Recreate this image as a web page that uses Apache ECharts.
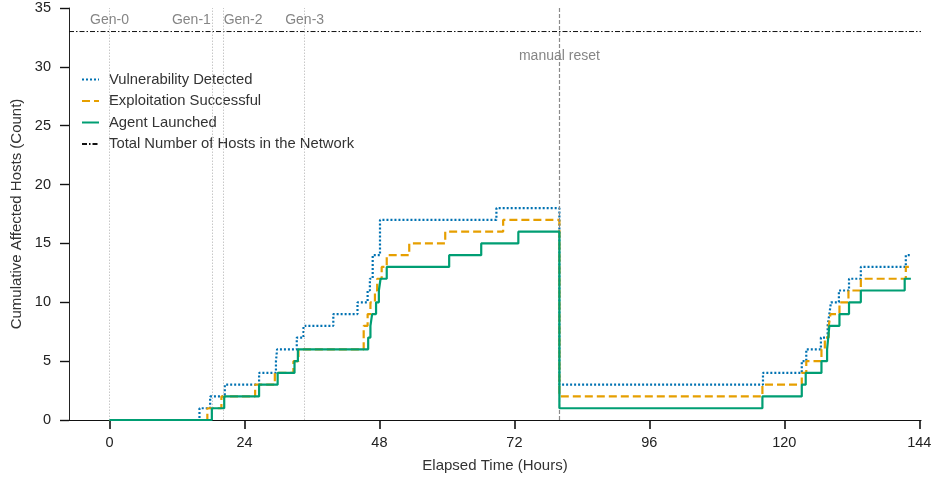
<!DOCTYPE html>
<html>
<head>
<meta charset="utf-8">
<script src="https://cdn.jsdelivr.net/npm/echarts@6/dist/echarts.min.js"></script>
<style>
  html, body { margin: 0; padding: 0; background: #fff; }
  #main { width: 935px; height: 477px; }
</style>
</head>
<body>
<div id="main"></div>
<script>
// 时间(小时) / 累计主机数
var vulnT = [0, 16.0, 17.9, 20.5, 26.6, 29.6, 29.8, 33.3, 34.5, 39.8, 44.1, 45.9, 46.3, 46.8, 48.1, 68.8, 80,
    116.2, 123.1, 123.9, 126.5, 127.7, 128.0, 128.3, 129.7, 131.5, 133.6, 141.6, 142.4];
var vulnV = [0, 1, 2, 3, 4, 5, 6, 7, 8, 9, 10, 11, 12, 14, 17, 18, 3,
    4, 5, 6, 7, 8, 9, 10, 11, 12, 13, 14, 14];

var exploitT = [0, 17.4, 19.9, 25.9, 29.4, 32.7, 33.6, 45.2, 45.9, 46.4, 47.2, 47.6, 48.4, 49.3, 53.3, 59.7, 70.0, 80,
    116.1, 123.1, 123.9, 126.6, 127.2, 127.9, 128.2, 129.8, 131.4, 133.6, 141.6, 142.4];
var exploitV = [0, 1, 2, 3, 4, 5, 6, 8, 9, 10, 11, 12, 13, 14, 15, 16, 17, 2,
    3, 4, 5, 6, 7, 8, 9, 10, 11, 12, 13, 13];

var agentT = [0, 18.2, 20.4, 26.6, 29.9, 32.9, 33.5, 46.0, 46.4, 46.7, 47.4, 47.9, 48.2, 49.3, 60.4, 66.1, 72.7, 80,
    116.1, 123.1, 123.8, 126.6, 127.6, 127.8, 128.0, 129.8, 131.5, 133.6, 141.4, 142.5];
var agentV = [0, 1, 2, 3, 4, 5, 6, 7, 8, 9, 10, 11, 12, 13, 14, 15, 16, 1,
    2, 3, 4, 5, 6, 7, 8, 9, 10, 11, 12, 12];

var totalHosts = 33;
var genTimes = [0, 18.2, 20.3, 34.7];
var genNames = ['Gen-0', 'Gen-1', 'Gen-2', 'Gen-3'];
var resetTime = 80;
var resetName = 'manual reset';
var xTicks = [0, 24, 48, 72, 96, 120, 144];
var xMin = -7.2, xMax = 144.3;

var FONT = "'Liberation Sans', Arial, sans-serif";

function pairs(ts, vs) {
    var out = [];
    for (var i = 0; i < ts.length; i++) {
        out.push([ts[i], vs[i]]);
    }
    return out;
}

var genAlign = ['center', 'right', 'left', 'center'];
var genOffset = [0, -1, 0, 0];
var genLabels = genTimes.map(function (t, i) {
    return {
        value: [t, 34.0],
        label: { align: genAlign[i], offset: [genOffset[i], 0], formatter: genNames[i] }
    };
});

var vLines = genTimes.map(function (t) {
    return { xAxis: t, lineStyle: { color: '#c8c8c8', type: [1.5, 1.5], width: 1 } };
});
vLines.push({ xAxis: resetTime, lineStyle: { color: '#8a8a8a', type: [4, 2], width: 1.2 } });

var myChart = echarts.init(document.getElementById('main'));
myChart.setOption({
    backgroundColor: '#fff',
    animation: false,
    textStyle: { fontFamily: FONT },
    grid: { left: 69, right: 14, top: 8, bottom: 57, outerBoundsMode: 'none', containLabel: false },
    legend: {
        data: ['Vulnerability Detected', 'Exploitation Successful', 'Agent Launched', 'Total Number of Hosts in the Network'],
        orient: 'vertical',
        left: 76,
        top: 67,
        itemWidth: 17,
        itemHeight: 10,
        itemGap: 6.5,
        itemStyle: { opacity: 0 },
        textStyle: { fontSize: 14.8, color: '#333', fontFamily: FONT, padding: [0, 0, 0, 5] }
    },
    xAxis: {
        type: 'value',
        min: xMin,
        max: xMax,
        name: 'Elapsed Time (Hours)',
        nameLocation: 'middle',
        nameGap: 38,
        nameTextStyle: { fontSize: 15, color: '#333' },
        axisLine: { onZero: false, lineStyle: { color: '#111', width: 1.2 } },
        axisTick: { show: true, length: 9, customValues: xTicks, lineStyle: { color: '#111', width: 1.6 } },
        axisLabel: { customValues: xTicks, fontSize: 14.5, color: '#222', margin: 15 },
        splitLine: { show: false }
    },
    yAxis: {
        type: 'value',
        min: 0,
        max: 35,
        interval: 5,
        name: 'Cumulative Affected Hosts (Count)',
        nameLocation: 'middle',
        nameGap: 43,
        nameTextStyle: { fontSize: 15, color: '#333' },
        axisLine: { show: true, onZero: false, lineStyle: { color: '#222', width: 1 } },
        axisTick: { show: true, length: 9, lineStyle: { color: '#111', width: 1.4 } },
        axisLabel: { fontSize: 14.5, color: '#222', margin: 18 },
        splitLine: { show: false }
    },
    series: [
        {
            name: 'markers',
            type: 'scatter',
            silent: true,
            symbolSize: 1,
            itemStyle: { color: 'rgba(0,0,0,0)' },
            label: { show: true, position: 'inside', fontSize: 14, color: '#666', fontFamily: FONT },
            data: genLabels.concat([{ value: [resetTime, 30.9], label: { align: 'center', formatter: resetName } }]),
            markLine: {
                silent: true,
                symbol: 'none',
                label: { show: false },
                data: vLines
            },
            z: 1
        },
        {
            name: 'Vulnerability Detected',
            type: 'line',
            step: 'end',
            showSymbol: false,
            symbol: 'none',
            color: '#0072B2',
            lineStyle: { color: '#0072B2', width: 2.2, type: [2, 2] },
            data: pairs(vulnT, vulnV),
            z: 3
        },
        {
            name: 'Exploitation Successful',
            type: 'line',
            step: 'end',
            showSymbol: false,
            symbol: 'none',
            color: '#E69F00',
            lineStyle: { color: '#E69F00', width: 2.2, type: [8, 4] },
            data: pairs(exploitT, exploitV),
            z: 4
        },
        {
            name: 'Agent Launched',
            type: 'line',
            step: 'end',
            showSymbol: false,
            symbol: 'none',
            color: '#009E73',
            lineStyle: { color: '#009E73', width: 2.2 },
            data: pairs(agentT, agentV),
            z: 5
        },
        {
            name: 'Total Number of Hosts in the Network',
            type: 'line',
            showSymbol: false,
            symbol: 'none',
            color: '#111',
            lineStyle: { color: '#111', width: 1, type: [5, 2, 1.5, 2] },
            data: [[xMin, totalHosts], [xMax, totalHosts]],
            z: 2
        }
    ]
});
</script>
</body>
</html>
